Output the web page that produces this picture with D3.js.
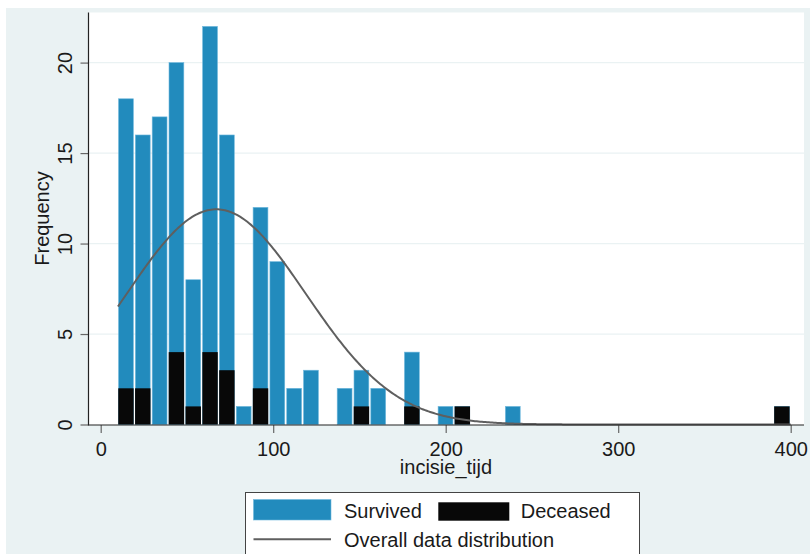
<!DOCTYPE html>
<html>
<head>
<meta charset="utf-8">
<script src="https://cdn.jsdelivr.net/npm/d3@7/dist/d3.min.js"></script>
<style>
  html, body { margin: 0; padding: 0; background: #ffffff; }
  svg { display: block; font-family: "Liberation Sans", Arial, sans-serif; }
</style>
</head>
<body>
<svg id="chart" width="810" height="554"></svg>
<script>
// Histogram of incisie_tijd: 40 bins of width 9.75 starting at 10
const binStart = 10;
const binWidth = 9.75;
const survived = [16, 14, 17, 16, 7, 18, 13, 1, 10, 9, 2, 3, 0, 2, 2, 2, 0, 3, 0, 1,
                  0, 0, 0, 1, 0, 0, 0, 0, 0, 0, 0, 0, 0, 0, 0, 0, 0, 0, 0, 0];
const deceased = [2, 2, 0, 4, 1, 4, 3, 0, 2, 0, 0, 0, 0, 0, 1, 0, 0, 1, 0, 0,
                  1, 0, 0, 0, 0, 0, 0, 0, 0, 0, 0, 0, 0, 0, 0, 0, 0, 0, 0, 1];
// Normal curve fitted to all observations
const normMean = 67;
const normSd = 52;
const xTicks = [0, 100, 200, 300, 400];
const yTicks = [0, 5, 10, 15, 20];
const legendLabels = ["Survived", "Deceased", "Overall data distribution"];

const colBlue = "#228bbd";
const colBlack = "#080808";
const colBg = "#eaf2f3";

const svg = d3.select("#chart");

// graph region and plot region
svg.append("rect").attr("x", 6).attr("y", 8).attr("width", 804).attr("height", 546).attr("fill", colBg);
const plot = { left: 88.5, right: 804, top: 12.5, bottom: 425 };
svg.append("rect").attr("x", plot.left).attr("y", plot.top)
  .attr("width", plot.right - plot.left).attr("height", plot.bottom - plot.top)
  .attr("fill", "#ffffff");

const x = d3.scaleLinear().domain([0, 400]).range([100.7, 790.7]);
const y = d3.scaleLinear().domain([0, 20]).range([424.5, 62.6]);

// horizontal grid
svg.append("g").selectAll("line").data(yTicks.slice(1)).join("line")
  .attr("x1", plot.left).attr("x2", plot.right)
  .attr("y1", d => y(d)).attr("y2", d => y(d))
  .attr("stroke", colBg).attr("stroke-width", 1.3);

const bins = survived.map((s, i) => ({
  x0: binStart + i * binWidth,
  x1: binStart + (i + 1) * binWidth,
  total: s + deceased[i],
  dead: deceased[i]
}));

// all observations (blue) with deceased overlaid (black)
svg.append("g").selectAll("rect").data(bins.filter(b => b.total > 0)).join("rect")
  .attr("x", d => x(d.x0) + 0.6)
  .attr("width", d => x(d.x1) - x(d.x0) - 2)
  .attr("y", d => y(d.total))
  .attr("height", d => y(0) - y(d.total))
  .attr("fill", colBlue)
  .attr("stroke", "#6fb8dd").attr("stroke-width", 0.6);

svg.append("g").selectAll("rect").data(bins.filter(b => b.dead > 0)).join("rect")
  .attr("x", d => x(d.x0) + 0.3)
  .attr("width", d => x(d.x1) - x(d.x0) - 1.4)
  .attr("y", d => y(d.dead))
  .attr("height", d => y(0) - y(d.dead))
  .attr("fill", colBlack);

// normal density scaled to frequency
const nTotal = d3.sum(bins, b => b.total);
const curveX = d3.range(binStart, 400.01, 1);
const dens = v => nTotal * binWidth / (normSd * Math.sqrt(2 * Math.PI)) *
  Math.exp(-((v - normMean) ** 2) / (2 * normSd * normSd));
svg.append("path")
  .datum(curveX)
  .attr("d", d3.line().x(d => x(d)).y(d => y(dens(d))))
  .attr("fill", "none").attr("stroke", "#5f5f5f").attr("stroke-width", 2);

// axes
const yAxis = svg.append("g").attr("transform", `translate(${plot.left},0)`)
  .call(d3.axisLeft(y).tickValues(yTicks).tickSize(8).tickSizeOuter(0));
yAxis.select(".domain").remove();
yAxis.selectAll(".tick line").attr("stroke", "#666").attr("stroke-width", 1.2);
yAxis.selectAll(".tick text")
  .attr("transform", "rotate(-90)")
  .attr("x", 0).attr("y", -16.8).attr("dy", 0)
  .attr("text-anchor", "middle")
  .attr("font-size", 20).attr("fill", "#1a1a1a")
  .style("font-family", "Liberation Sans, Arial, sans-serif");

const xAxis = svg.append("g").attr("transform", `translate(0,${plot.bottom})`)
  .call(d3.axisBottom(x).tickValues(xTicks).tickSize(8).tickSizeOuter(0));
xAxis.select(".domain").remove();
xAxis.selectAll(".tick line").attr("stroke", "#666").attr("stroke-width", 1.2);
xAxis.selectAll(".tick text")
  .attr("y", 31).attr("dy", 0)
  .attr("font-size", 20).attr("fill", "#1a1a1a")
  .style("font-family", "Liberation Sans, Arial, sans-serif");

// axis lines
svg.append("line").attr("x1", plot.left).attr("x2", plot.left)
  .attr("y1", plot.top).attr("y2", plot.bottom + 0.5)
  .attr("stroke", "#222").attr("stroke-width", 1.2);
svg.append("line").attr("x1", plot.left).attr("x2", plot.right)
  .attr("y1", plot.bottom).attr("y2", plot.bottom)
  .attr("stroke", "#222").attr("stroke-width", 1.2);

// axis titles
svg.append("text").attr("x", 446).attr("y", 474)
  .attr("text-anchor", "middle").attr("font-size", 20).attr("fill", "#1a1a1a")
  .text("incisie_tijd");
svg.append("text").attr("transform", "translate(49,218.5) rotate(-90)")
  .attr("text-anchor", "middle").attr("font-size", 20).attr("fill", "#1a1a1a")
  .text("Frequency");

// legend
const lg = svg.append("g");
lg.append("rect").attr("x", 245.5).attr("y", 492.5).attr("width", 394).attr("height", 80)
  .attr("fill", "#ffffff").attr("stroke", "#444").attr("stroke-width", 1);
lg.append("rect").attr("x", 253.5).attr("y", 499.5).attr("width", 77.5).attr("height", 20.5)
  .attr("fill", colBlue).attr("stroke", "#6fb8dd").attr("stroke-width", 0.6);
lg.append("text").attr("x", 344).attr("y", 518.3).attr("font-size", 20).attr("fill", "#1a1a1a")
  .text(legendLabels[0]);
lg.append("rect").attr("x", 438.3).attr("y", 502.3).attr("width", 71).attr("height", 18.4)
  .attr("fill", colBlack);
lg.append("text").attr("x", 520.7).attr("y", 518.3).attr("font-size", 20).attr("fill", "#1a1a1a")
  .text(legendLabels[1]);
lg.append("line").attr("x1", 253.5).attr("x2", 331).attr("y1", 539.3).attr("y2", 539.3)
  .attr("stroke", "#5f5f5f").attr("stroke-width", 2);
lg.append("text").attr("x", 344).attr("y", 546.7).attr("font-size", 20).attr("fill", "#1a1a1a")
  .text(legendLabels[2]);
</script>
</body>
</html>
